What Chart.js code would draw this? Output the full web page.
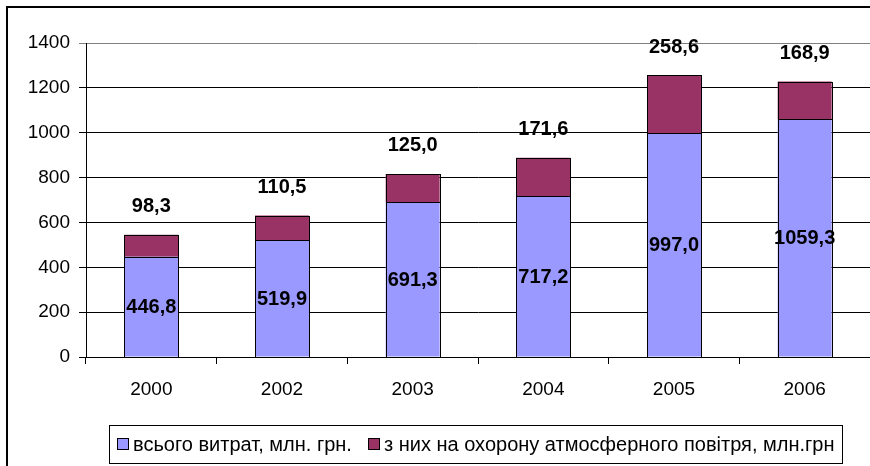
<!DOCTYPE html>
<html>
<head>
<meta charset="utf-8">
<script src="https://cdn.jsdelivr.net/npm/chart.js@4.4.0/dist/chart.umd.min.js"></script>
<style>
  html, body { margin: 0; padding: 0; background: #fff; }
  #wrap { width: 870px; height: 466px; position: relative; }
</style>
</head>
<body>
<div id="wrap"><canvas id="airCosts"></canvas></div>
<script>
// data
var years = ['2000', '2002', '2003', '2004', '2005', '2006'];
var totalCosts = [446.8, 519.9, 691.3, 717.2, 997.0, 1059.3];
var airCosts = [98.3, 110.5, 125.0, 171.6, 258.6, 168.9];
var seriesNames = ['всього витрат, млн. грн.', 'з них на охорону атмосферного повітря, млн.грн'];
var seriesColors = ['#9999FF', '#993366'];

var fmt = function (v) { return v.toFixed(1).replace('.', ','); };

// frame, crisp bar outlines, value labels and boxed legend
var decorations = {
  id: 'decorations',
  beforeDraw: function (chart) {
    var c = chart.ctx;
    c.save();
    c.fillStyle = '#fff';
    c.fillRect(0, 0, chart.width, chart.height);
    c.strokeStyle = '#000';
    c.lineWidth = 2;
    c.beginPath();
    c.moveTo(7, chart.height + 5);
    c.lineTo(7, 7);
    c.lineTo(chart.width + 5, 7);
    c.stroke();
    c.restore();
  },
  afterDatasetsDraw: function (chart) {
    var c = chart.ctx;
    c.save();
    c.strokeStyle = '#000';
    c.lineWidth = 1;
    [0, 1].forEach(function (d) {
      chart.getDatasetMeta(d).data.forEach(function (bar) {
        var l = Math.round(bar.x - bar.width / 2) + 0.5;
        var r = Math.round(bar.x + bar.width / 2) + 0.5;
        var t = Math.round(bar.y) + 0.5;
        var b = Math.round(bar.base) + 0.5;
        c.strokeRect(l, t, r - l, b - t);
      });
    });

    c.font = 'bold 20px "Liberation Sans", Arial, sans-serif';
    c.fillStyle = '#000';
    c.textAlign = 'center';
    c.textBaseline = 'middle';
    chart.getDatasetMeta(0).data.forEach(function (bar, i) {
      c.fillText(fmt(totalCosts[i]), bar.x, (bar.y + bar.base) / 2 + 1);
    });
    chart.getDatasetMeta(1).data.forEach(function (bar, i) {
      c.fillText(fmt(airCosts[i]), bar.x, bar.y - 28);
    });

    // legend
    c.strokeRect(109.5, 425.5, 733, 38);
    c.font = '20px "Liberation Sans", Arial, sans-serif';
    c.textAlign = 'left';
    var sx = [117.5, 368.5];
    var tx = [133, 384];
    for (var k = 0; k < 2; k++) {
      c.fillStyle = seriesColors[k];
      c.fillRect(sx[k], 438.5, 11, 11);
      c.strokeRect(sx[k], 438.5, 11, 11);
      c.fillStyle = '#000';
      c.fillText(seriesNames[k], tx[k], 445);
    }
    c.restore();
  }
};

var ctx = document.getElementById('airCosts');
new Chart(ctx, {
  type: 'bar',
  data: {
    labels: years,
    datasets: [{
      label: seriesNames[0],
      data: totalCosts,
      backgroundColor: seriesColors[0],
      borderWidth: 0
    }, {
      label: seriesNames[1],
      data: airCosts,
      backgroundColor: seriesColors[1],
      borderWidth: 0
    }]
  },
  options: {
    responsive: true,
    maintainAspectRatio: false,
    animation: false,
    devicePixelRatio: 1,
    layout: { padding: { left: 0, top: 43, right: 0, bottom: 0 } },
    datasets: { bar: { barPercentage: 0.413, categoryPercentage: 1 } },
    plugins: {
      legend: { display: false },
      tooltip: { enabled: false }
    },
    scales: {
      x: {
        stacked: true,
        afterFit: function (s) { s.height = 109; },
        grid: { drawOnChartArea: false, color: '#000', tickLength: 7, offset: true },
        border: { color: '#000', width: 1 },
        ticks: {
          color: '#000',
          padding: 14,
          font: { family: '"Liberation Sans", Arial, sans-serif', size: 19 }
        }
      },
      y: {
        stacked: true,
        min: 0,
        max: 1400,
        afterFit: function (s) { s.width = 86; },
        grid: {
          color: function (g) { return g.tick && g.tick.value === 1400 ? '#808080' : '#000'; },
          tickLength: 7
        },
        border: { color: '#000', width: 1 },
        ticks: {
          stepSize: 200,
          color: '#000',
          padding: 9,
          callback: function (v) { return String(v); },
          font: { family: '"Liberation Sans", Arial, sans-serif', size: 19 }
        }
      }
    }
  },
  plugins: [decorations]
});
</script>
</body>
</html>
